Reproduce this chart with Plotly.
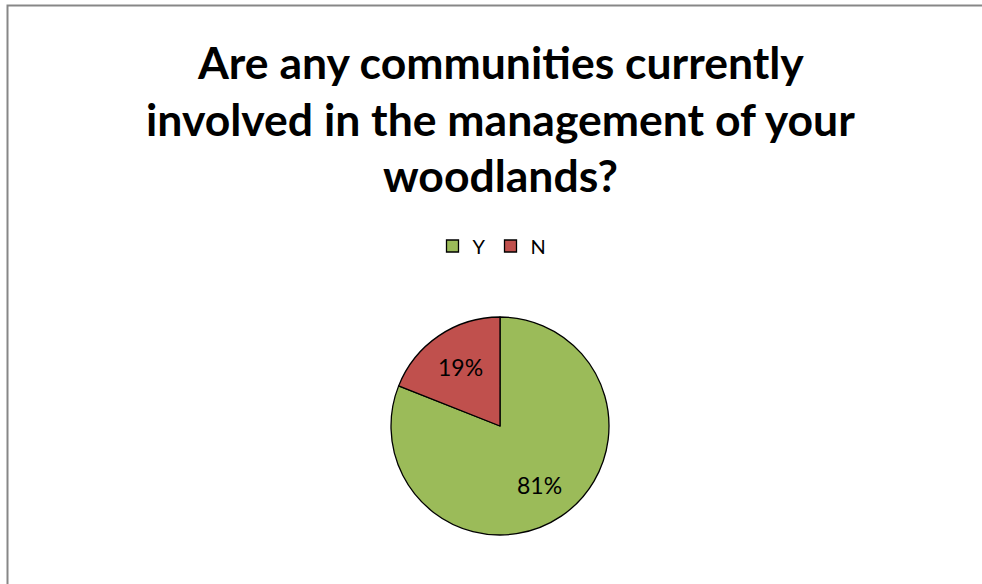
import math
import plotly.graph_objects as go

# Survey answers and their shares
answers = ["Y", "N"]
shares = [81, 19]
slice_colors = ["#9BBB59", "#C0504D"]
title_lines = [
    "Are any communities currently",
    "involved in the management of your",
    "woodlands?",
]

W, H = 982, 584
font_family = "Lato, Open Sans, sans-serif"

# Pie geometry in pixels, converted to paper fractions
cx, cy, r = 500, 426, 109
dom_x = [(cx - r) / W, (cx + r) / W]
dom_y = [(H - cy - r) / H, (H - cy + r) / H]

fig = go.Figure(
    go.Pie(
        labels=answers,
        values=shares,
        sort=False,
        direction="clockwise",
        rotation=0,
        marker=dict(colors=slice_colors, line=dict(color="black", width=1.3)),
        textinfo="none",
        domain=dict(x=dom_x, y=dom_y),
        hoverinfo="label+percent",
    )
)

# Percentage labels placed along each slice's mid-angle
total = sum(shares)
annotations = []
start = 0.0
for val in shares:
    frac = val / total
    mid = (start + frac / 2) * 2 * math.pi  # clockwise from 12 o'clock
    start += frac
    dist = 0.65 * r
    px = cx + dist * math.sin(mid)
    py = cy - dist * math.cos(mid)
    annotations.append(
        dict(
            text="%d%%" % round(frac * 100),
            x=px / W,
            y=1 - py / H,
            xref="paper",
            yref="paper",
            xanchor="center",
            yanchor="middle",
            showarrow=False,
            font=dict(family=font_family, size=23, color="black"),
        )
    )

# Title, one annotation per line for exact line spacing
title_y = [62, 118, 175]
for line, yy in zip(title_lines, title_y):
    annotations.append(
        dict(
            text="<b>%s</b>" % line,
            x=500 / W,
            y=1 - yy / H,
            xref="paper",
            yref="paper",
            xanchor="center",
            yanchor="middle",
            showarrow=False,
            font=dict(family=font_family, size=44.5, color="black"),
        )
    )

fig.update_layout(
    width=W,
    height=H,
    margin=dict(l=0, r=0, t=0, b=0),
    paper_bgcolor="white",
    plot_bgcolor="white",
    annotations=annotations,
    showlegend=True,
    legend=dict(
        orientation="h",
        x=492 / W,
        xanchor="center",
        y=1 - 246 / H,
        yanchor="middle",
        font=dict(family=font_family, size=20, color="black"),
        traceorder="normal",
        itemwidth=30,
    ),
    shapes=[
        dict(
            type="rect",
            xref="paper",
            yref="paper",
            x0=7.5 / W,
            x1=1.05,
            y0=-0.05,
            y1=1 - 5.5 / H,
            line=dict(color="#878787", width=2),
            fillcolor="rgba(0,0,0,0)",
        )
    ],
)

fig.write_html("out.html")
